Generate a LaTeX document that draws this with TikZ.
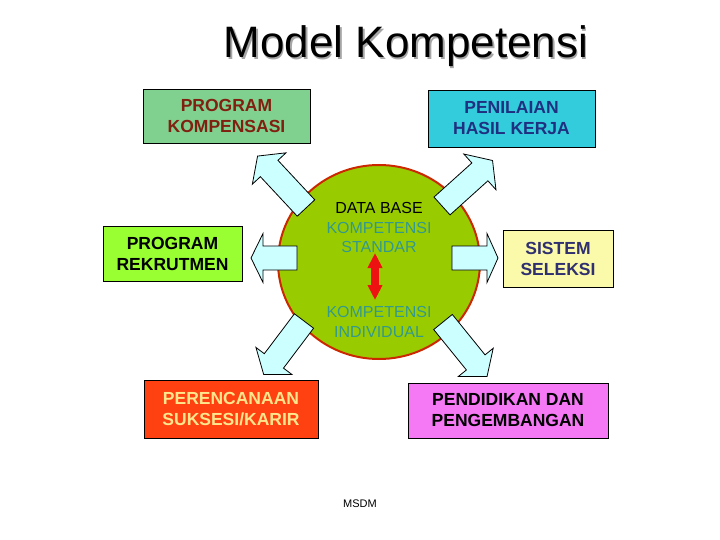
\documentclass[tikz,border=0pt]{standalone}
\usepackage{fontspec}
\setmainfont{Liberation Sans}
\usetikzlibrary{arrows.meta,shapes.geometric}
\definecolor{kompfill}{RGB}{128,208,144}
\definecolor{komptext}{RGB}{128,32,16}
\definecolor{penfill}{RGB}{51,204,221}
\definecolor{pentext}{RGB}{32,48,128}
\definecolor{rekfill}{RGB}{153,255,51}
\definecolor{selfill}{RGB}{250,250,170}
\definecolor{seltext}{RGB}{48,48,112}
\definecolor{perfill}{RGB}{255,64,16}
\definecolor{pertext}{RGB}{255,230,140}
\definecolor{pdkfill}{RGB}{245,120,245}
\definecolor{circfill}{RGB}{153,204,0}
\definecolor{circline}{RGB}{204,40,0}
\definecolor{teal1}{RGB}{51,153,140}
\definecolor{arrfill}{RGB}{204,255,255}
\definecolor{redarr}{RGB}{238,17,17}
\newcommand{\blockarr}[5]{%
  \begin{scope}[shift={#1}, rotate=#2]
    \filldraw[blockarrow] (0,-12) -- ({#3-#4},-12) -- ({#3-#4},-#5) -- (#3,0)
      -- ({#3-#4},#5) -- ({#3-#4},12) -- (0,12) -- cycle;
  \end{scope}}
\begin{document}
\begin{tikzpicture}[x=1pt,y=-1pt,
  box/.style={draw=black, line width=0.9pt, align=center, inner sep=0pt,
    font=\fontsize{17.5}{21}\selectfont\bfseries},
  blockarrow/.style={fill=arrfill, draw=black, line width=0.8pt, line join=miter},
  circtext/.style={align=center, font=\fontsize{16}{19.5}\selectfont, text=teal1},
  redconn/.style={draw=redarr, line width=8pt,
    {Triangle[width=14pt,length=15pt]}-{Triangle[width=14pt,length=15pt]}}
]
\useasboundingbox (0,0) rectangle (720,540);

% title
\node[anchor=base, text=black!35, font=\fontsize{44}{50}\selectfont] at (407.5,59.5) {Model Kompetensi};
\node (title) [anchor=base, font=\fontsize{44}{50}\selectfont] at (406,58) {Model Kompetensi};

% central circle
\node (db) [ellipse, draw=circline, line width=2pt, fill=circfill,
  minimum width=202pt, minimum height=194pt, inner sep=0pt] at (379,262) {};

% boxes
\node (komp) [box, fill=kompfill, text=komptext, minimum width=167pt, minimum height=54pt]
  at (226.5,116) {PROGRAM\\KOMPENSASI};
\node (pen) [box, fill=penfill, text=pentext, minimum width=167pt, minimum height=57pt]
  at (511.5,118.5) {PENILAIAN\\HASIL KERJA};
\node (rek) [box, fill=rekfill, text=black, minimum width=139pt, minimum height=55pt]
  at (172.5,253.5) {PROGRAM\\REKRUTMEN};
\node (sel) [box, fill=selfill, text=seltext, minimum width=110pt, minimum height=57pt]
  at (558,258.5) {SISTEM\\SELEKSI};
\node (per) [box, fill=perfill, text=pertext, minimum width=174pt, minimum height=58pt]
  at (231,409) {PERENCANAAN\\SUKSESI/KARIR};
\node (pdk) [box, fill=pdkfill, text=black, minimum width=200pt, minimum height=55pt]
  at (508,410.5) {PENDIDIKAN DAN\\PENGEMBANGAN};

% block arrows from the circle to the boxes
\coordinate (tUL) at (306,208);
\coordinate (tUR) at (442,206);
\coordinate (tL) at (297,258);
\coordinate (tR) at (452,258);
\coordinate (tLL) at (304,321);
\coordinate (tLR) at (443,322);
\blockarr{(tUL)}{133}{71}{17}{23}
\blockarr{(tUR)}{42}{68}{17}{24}
\blockarr{(tL)}{180}{46}{12}{24.5}
\blockarr{(tR)}{0}{46}{11}{24.5}
\blockarr{(tLL)}{233}{67}{17}{22.5}
\blockarr{(tLR)}{309}{70}{18}{22.5}

% circle texts
\node (std) [circtext] at (379,227.5) {\textcolor{black}{DATA BASE}\\KOMPETENSI\\STANDAR};
\node (ind) [circtext] at (379,322) {KOMPETENSI\\INDIVIDUAL};

% red double arrow
\coordinate (ra1) at (375,253);
\coordinate (ra2) at (375,300);
\draw[redconn] (ra1) -- (ra2);

% footer
\node (msdm) [font=\fontsize{11}{13}\selectfont] at (360,504) {MSDM};
\end{tikzpicture}
\end{document}
